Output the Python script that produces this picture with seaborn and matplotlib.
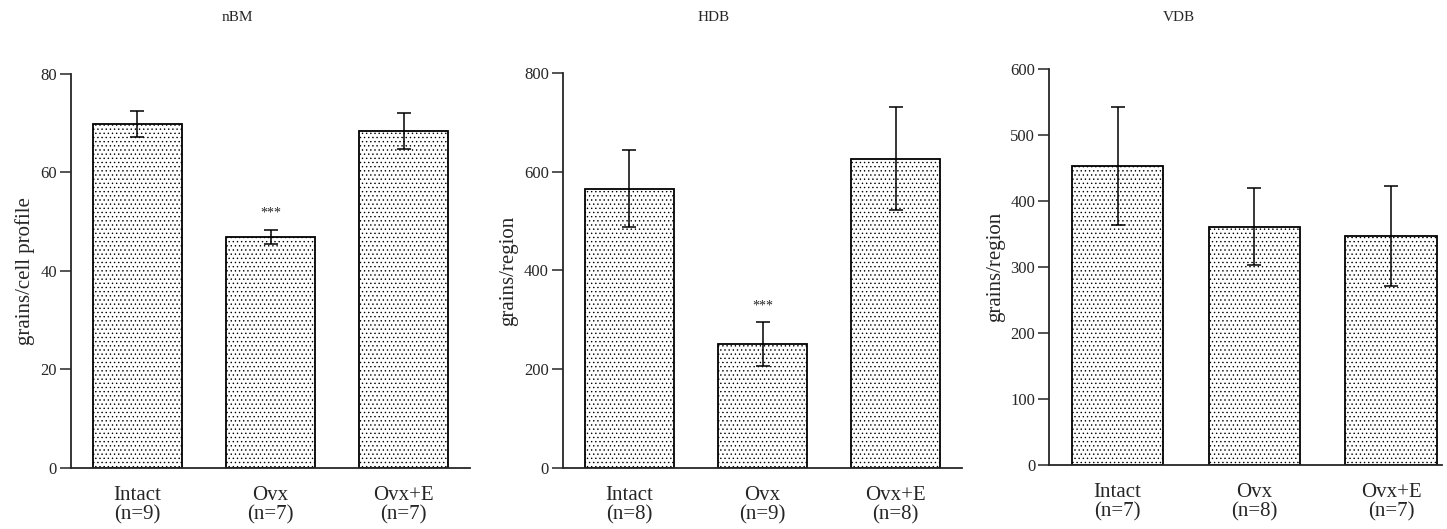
import pandas as pd
import seaborn as sns
import matplotlib.pyplot as plt

# groups
groups = ['Intact', 'Ovx', 'Ovx+E']

# nBM
nbm_n = [9, 7, 7]
nbm_mean = [69.8, 46.9, 68.4]
nbm_sem = [2.7, 1.5, 3.7]

# HDB
hdb_n = [8, 9, 8]
hdb_mean = [565, 251, 626]
hdb_sem = [78, 44, 104]

# VDB
vdb_n = [7, 8, 7]
vdb_mean = [453, 361, 347]
vdb_sem = [89, 58, 76]

sns.set_style('ticks')
plt.rcParams['font.family'] = ['Liberation Serif', 'DejaVu Serif']
plt.rcParams['hatch.linewidth'] = 0.5


def panel(fig, rect, titulo, ylabel, n, media, sem, ymax, paso, titulo_x, xmax=2.5, estrellas=None):
    ax = fig.add_axes(rect)
    etiquetas = [g + '\n(n=' + str(k) + ')' for g, k in zip(groups, n)]
    df = pd.DataFrame({'grupo': etiquetas, 'valor': media})
    sns.barplot(x='grupo', y='valor', data=df, ax=ax, color='white',
                edgecolor='black', linewidth=1.3, hatch='....', width=0.67,
                errorbar=None)
    ax.errorbar(range(len(media)), media, yerr=sem, fmt='none', ecolor='black',
                elinewidth=1.1, capsize=5, capthick=1.1)
    if estrellas is not None:
        ax.annotate('***', xy=(estrellas, media[estrellas] + sem[estrellas]),
                    xytext=(0, 12), textcoords='offset points',
                    ha='center', va='center', fontsize=10)
    ax.set_xlim(-0.5, xmax)
    ax.set_ylim(0, ymax)
    ax.set_yticks(range(0, ymax + 1, paso))
    ax.set_xlabel('')
    ax.set_ylabel(ylabel, fontsize=15)
    sns.despine(ax=ax)
    ax.spines['left'].set_linewidth(1.3)
    ax.spines['bottom'].set_linewidth(1.3)
    ax.tick_params(axis='y', length=8, width=1.1, labelsize=12, pad=2)
    ax.tick_params(axis='x', length=0, labelsize=15, pad=13)
    for t in ax.get_xticklabels():
        t.set_linespacing(1.0)
    fig.text(titulo_x, 0.966, titulo, ha='center', va='center', fontsize=11)
    return ax


fig = plt.figure(figsize=(14.47, 5.29), dpi=100)

panel(fig, [0.049, 0.1153, 0.276, 0.745], 'nBM', 'grains/cell profile',
      nbm_n, nbm_mean, nbm_sem, 80, 20, 237 / 1447, estrellas=1)
panel(fig, [0.389, 0.1153, 0.276, 0.747], 'HDB', 'grains/region',
      hdb_n, hdb_mean, hdb_sem, 800, 200, 714 / 1447, estrellas=1)
panel(fig, [0.725, 0.121, 0.2715, 0.749], 'VDB', 'grains/region',
      vdb_n, vdb_mean, vdb_sem, 600, 100, 1179 / 1447, xmax=2.37)

plt.savefig('out.png', dpi=100)
